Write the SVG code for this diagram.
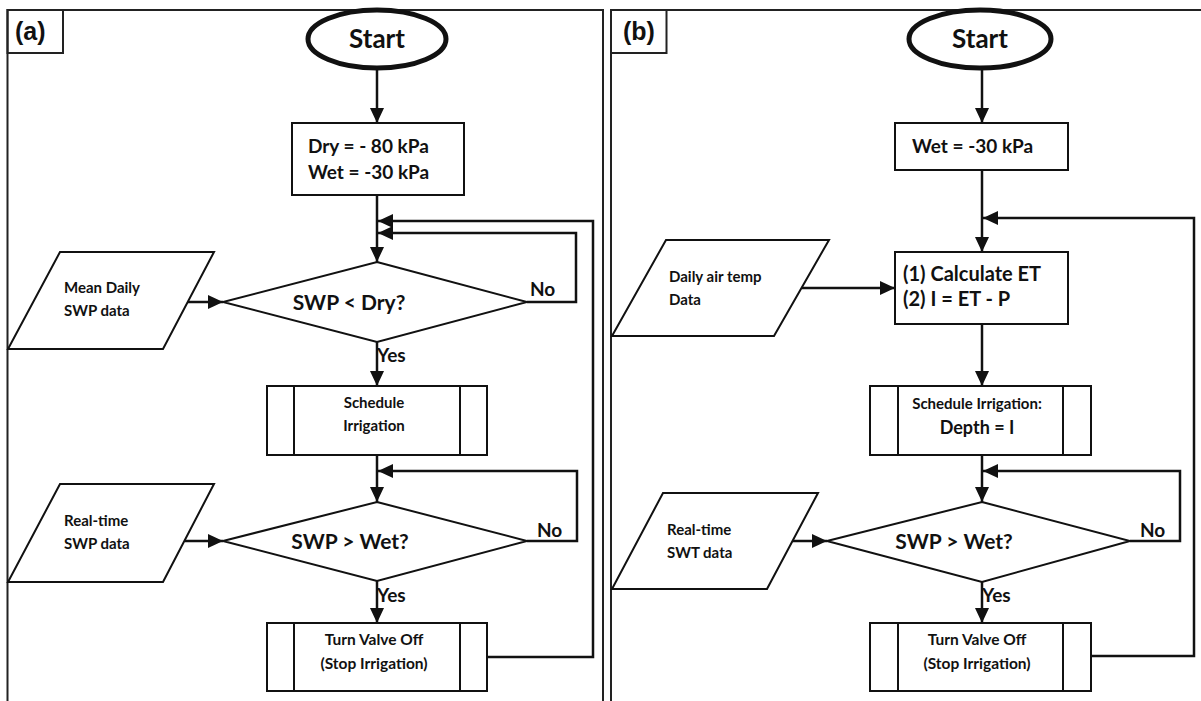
<svg xmlns="http://www.w3.org/2000/svg" width="1201" height="701" viewBox="0 0 1201 701">
<defs>
<style>
.frame{fill:none;stroke:#222;stroke-width:2}
.box{fill:#fff;stroke:#111;stroke-width:2}
.term{fill:#fff;stroke:#111;stroke-width:5}
.con{fill:none;stroke:#111;stroke-width:2.5}
.t{font-family:Lato,"Open Sans",sans-serif;font-weight:bold;fill:#111}
.lab{font-family:"Liberation Sans",Arial,sans-serif;font-weight:bold;font-size:25px;fill:#111}
</style>
<marker id="ah" markerUnits="userSpaceOnUse" markerWidth="16" markerHeight="14" refX="15" refY="7" orient="auto">
<path d="M0,0 L15,7 L0,14 z" fill="#111"/>
</marker>
</defs>
<rect width="1201" height="701" fill="#fff"/>

<g id="panel-a-frame">
<polyline class="frame" points="7.5,701 7.5,10 603,10 603,701"/>
<rect class="frame" x="7.5" y="10" width="55.5" height="43"/>
<text class="lab" x="15" y="40">(a)</text>
</g>
<g id="panel-b-frame">
<polyline class="frame" points="611,701 611,10 1201,10"/>
<rect class="frame" x="611" y="10" width="55.5" height="43"/>
<text class="lab" x="623" y="40">(b)</text>
</g>

<g id="connectors">
<!-- panel a -->
<line class="con" x1="377" y1="70" x2="377" y2="123" marker-end="url(#ah)"/>
<line class="con" x1="377" y1="195" x2="377" y2="262" marker-end="url(#ah)"/>
<polyline class="con" points="527,302 576,302 576,233 378,233" marker-end="url(#ah)"/>
<polyline class="con" points="487,657 593,657 593,221 378,221" marker-end="url(#ah)"/>
<line class="con" x1="188" y1="302" x2="223" y2="302" marker-end="url(#ah)"/>
<line class="con" x1="377" y1="342" x2="377" y2="386" marker-end="url(#ah)"/>
<line class="con" x1="377" y1="455" x2="377" y2="502" marker-end="url(#ah)"/>
<polyline class="con" points="527,541 577,541 577,471 378,471" marker-end="url(#ah)"/>
<line class="con" x1="185" y1="541" x2="223" y2="541" marker-end="url(#ah)"/>
<line class="con" x1="377" y1="581" x2="377" y2="623" marker-end="url(#ah)"/>
<!-- panel b -->
<line class="con" x1="982" y1="70" x2="982" y2="123" marker-end="url(#ah)"/>
<line class="con" x1="982" y1="170" x2="982" y2="252" marker-end="url(#ah)"/>
<polyline class="con" points="1091,656 1194,656 1194,218 983,218" marker-end="url(#ah)"/>
<line class="con" x1="802" y1="288" x2="895" y2="288" marker-end="url(#ah)"/>
<line class="con" x1="982" y1="324" x2="982" y2="386" marker-end="url(#ah)"/>
<line class="con" x1="982" y1="455" x2="982" y2="502" marker-end="url(#ah)"/>
<polyline class="con" points="1130,541 1180,541 1180,471 983,471" marker-end="url(#ah)"/>
<line class="con" x1="793" y1="541" x2="827" y2="541" marker-end="url(#ah)"/>
<line class="con" x1="982" y1="582" x2="982" y2="623" marker-end="url(#ah)"/>
</g>

<!-- Panel a nodes -->
<g id="a-start">
<ellipse class="term" cx="377" cy="39" rx="69" ry="29"/>
<text class="t" x="377" y="48" font-size="26" text-anchor="middle">Start</text>
</g>
<g id="a-init">
<rect class="box" x="292" y="123" width="172" height="72"/>
<text class="t" x="308" y="153" font-size="19">Dry = - 80 kPa</text>
<text class="t" x="308" y="179" font-size="19">Wet = -30 kPa</text>
</g>
<g id="a-dec1">
<polygon class="box" points="377,262 527,302 377,342 223,302"/>
<text class="t" x="349" y="310" font-size="21" text-anchor="middle">SWP &lt; Dry?</text>
<text class="t" x="530" y="296" font-size="19">No</text>
<text class="t" x="377" y="362" font-size="19">Yes</text>
</g>
<g id="a-in1">
<polygon class="box" points="60,252 214,252 163,349 8,349"/>
<text class="t" x="64" y="293" font-size="15">Mean Daily</text>
<text class="t" x="64" y="316" font-size="15">SWP data</text>
</g>
<g id="a-sched">
<rect class="box" x="267" y="386" width="220" height="69"/>
<line class="box" x1="294" y1="386" x2="294" y2="455"/>
<line class="box" x1="460" y1="386" x2="460" y2="455"/>
<text class="t" x="374" y="408" font-size="15" text-anchor="middle">Schedule</text>
<text class="t" x="374" y="431" font-size="15" text-anchor="middle">Irrigation</text>
</g>
<g id="a-dec2">
<polygon class="box" points="377,502 527,541 377,581 223,541"/>
<text class="t" x="350" y="549" font-size="21" text-anchor="middle">SWP &gt; Wet?</text>
<text class="t" x="537" y="537" font-size="19">No</text>
<text class="t" x="377" y="602" font-size="19">Yes</text>
</g>
<g id="a-in2">
<polygon class="box" points="60,484 214,484 163,582 8,582"/>
<text class="t" x="64" y="526" font-size="15">Real-time</text>
<text class="t" x="64" y="549" font-size="15">SWP data</text>
</g>
<g id="a-valve">
<rect class="box" x="267" y="623" width="220" height="68"/>
<line class="box" x1="294" y1="623" x2="294" y2="691"/>
<line class="box" x1="460" y1="623" x2="460" y2="691"/>
<text class="t" x="374" y="645" font-size="15.5" text-anchor="middle">Turn Valve Off</text>
<text class="t" x="374" y="669" font-size="15.5" text-anchor="middle">(Stop Irrigation)</text>
</g>

<!-- Panel b nodes -->
<g id="b-start">
<ellipse class="term" cx="980" cy="39" rx="71" ry="29"/>
<text class="t" x="980" y="48" font-size="26" text-anchor="middle">Start</text>
</g>
<g id="b-init">
<rect class="box" x="895" y="123" width="173" height="47"/>
<text class="t" x="912" y="153" font-size="19">Wet = -30 kPa</text>
</g>
<g id="b-calc">
<rect class="box" x="895" y="252" width="173" height="72"/>
<text class="t" x="903" y="281" font-size="20">(1) Calculate ET</text>
<text class="t" x="903" y="306" font-size="20">(2) I = ET - P</text>
</g>
<g id="b-in1">
<polygon class="box" points="666,240 829,240 774,336 612,336"/>
<text class="t" x="669" y="282" font-size="15">Daily air temp</text>
<text class="t" x="669" y="305" font-size="15">Data</text>
</g>
<g id="b-sched">
<rect class="box" x="870" y="386" width="221" height="69"/>
<line class="box" x1="898" y1="386" x2="898" y2="455"/>
<line class="box" x1="1063" y1="386" x2="1063" y2="455"/>
<text class="t" x="977" y="409" font-size="15" text-anchor="middle">Schedule Irrigation:</text>
<text class="t" x="977" y="434" font-size="18" text-anchor="middle">Depth = I</text>
</g>
<g id="b-dec">
<polygon class="box" points="982,502 1130,541 982,582 827,541"/>
<text class="t" x="954" y="549" font-size="21" text-anchor="middle">SWP &gt; Wet?</text>
<text class="t" x="1140" y="537" font-size="19">No</text>
<text class="t" x="982" y="602" font-size="19">Yes</text>
</g>
<g id="b-in2">
<polygon class="box" points="663,493 818,493 767,589 612,589"/>
<text class="t" x="667" y="535" font-size="15">Real-time</text>
<text class="t" x="667" y="558" font-size="15">SWT data</text>
</g>
<g id="b-valve">
<rect class="box" x="870" y="623" width="221" height="68"/>
<line class="box" x1="898" y1="623" x2="898" y2="691"/>
<line class="box" x1="1063" y1="623" x2="1063" y2="691"/>
<text class="t" x="977" y="645" font-size="15.5" text-anchor="middle">Turn Valve Off</text>
<text class="t" x="977" y="669" font-size="15.5" text-anchor="middle">(Stop Irrigation)</text>
</g>
</svg>
